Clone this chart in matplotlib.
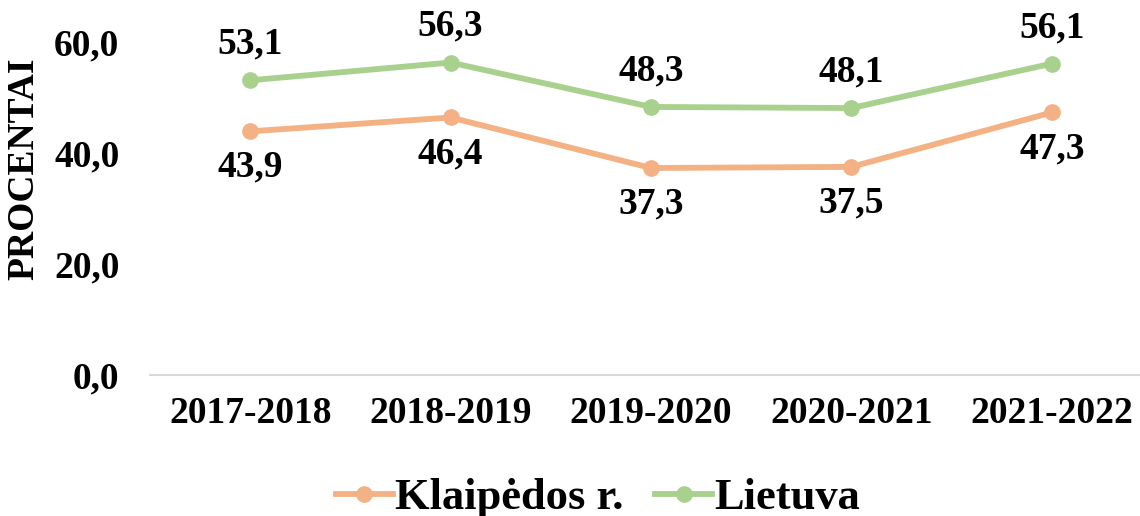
import matplotlib.pyplot as plt
from matplotlib.ticker import FuncFormatter

plt.rcParams['font.family'] = ['Liberation Serif', 'DejaVu Serif']
plt.rcParams['font.weight'] = 'bold'

metai = ["2017-2018", "2018-2019", "2019-2020", "2020-2021", "2021-2022"]
klaipedos = [43.9, 46.4, 37.3, 37.5, 47.3]
lietuva = [53.1, 56.3, 48.3, 48.1, 56.1]
y_ticks = [0, 20, 40, 60]

spalva_k = "#F4B183"
spalva_l = "#A9D18E"

fig = plt.figure(figsize=(11.4, 5.16), dpi=100)
ax = fig.add_axes([150 / 1140, 141 / 516, 1002 / 1140, 333 / 516])

x = range(len(metai))
ax.plot(x, klaipedos, color=spalva_k, lw=4.2, marker="o", ms=11, label="Klaipėdos r.")
ax.plot(x, lietuva, color=spalva_l, lw=4.2, marker="o", ms=11, label="Lietuva")

def kablelis(v):
    return ("%.1f" % v).replace(".", ",")

for i in x:
    ax.annotate(kablelis(lietuva[i]), (i, lietuva[i]), xytext=(0, 26),
                textcoords="offset points", ha="center", va="center",
                fontsize=27, fontweight="bold", annotation_clip=False)
    ax.annotate(kablelis(klaipedos[i]), (i, klaipedos[i]), xytext=(0, -26),
                textcoords="offset points", ha="center", va="center",
                fontsize=27, fontweight="bold", annotation_clip=False)

ax.set_xlim(-0.5, len(metai) - 0.5)
ax.set_ylim(0, 60)
ax.set_yticks(y_ticks)
ax.yaxis.set_major_formatter(FuncFormatter(lambda v, p: kablelis(v)))
ax.set_xticks(list(x))
ax.set_xticklabels(metai)
ax.tick_params(axis="both", length=0, labelsize=27)
ax.tick_params(axis="y", pad=22)
ax.tick_params(axis="x", pad=15)
for t in ax.get_xticklabels() + ax.get_yticklabels():
    t.set_fontweight("bold")

for s in ["top", "right", "left"]:
    ax.spines[s].set_visible(False)
ax.spines["bottom"].set_color("#D9D9D9")
ax.spines["bottom"].set_linewidth(1.5)

ax.set_ylabel("PROCENTAI", fontsize=27, fontweight="bold")
ax.yaxis.set_label_coords(-0.108, 0.62)

fig.legend(loc="center", bbox_to_anchor=(598 / 1140, 18 / 516), ncol=2, frameon=False,
           prop={"size": 32, "weight": "bold"}, handlelength=1.28, handletextpad=0.05,
           columnspacing=0.72, borderaxespad=0)

fig.savefig("out.png", dpi=100)
